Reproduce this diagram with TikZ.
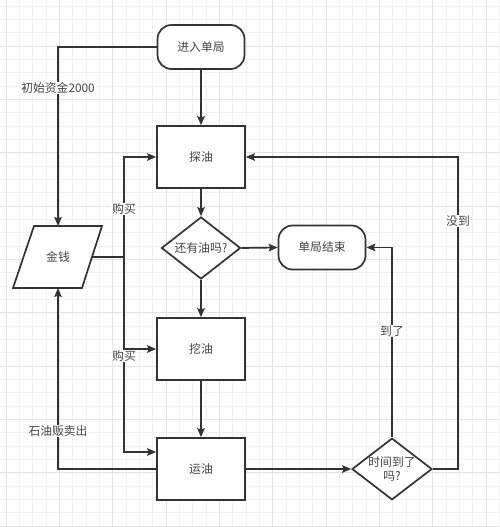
\documentclass[tikz,border=0pt]{standalone}
\usepackage{fontspec}
\setmainfont{Noto Sans CJK SC}
\usetikzlibrary{shapes.geometric,arrows.meta}
\definecolor{ink}{HTML}{333333}
\definecolor{txt}{HTML}{444444}
\definecolor{gminor}{HTML}{F1F1F1}
\definecolor{gmajor}{HTML}{E3E3E3}
\begin{document}
\begin{tikzpicture}[x=1pt,y=-1pt,
  font=\fontsize{11.8}{14}\selectfont,
  every node/.style={text=txt},
  box/.style={draw=ink,line width=1.7pt,minimum width=88pt,minimum height=62pt,inner sep=0pt,fill=white},
  term/.style={draw=ink,line width=1.7pt,rounded corners=14pt,minimum width=87pt,minimum height=44pt,inner sep=0pt,fill=white},
  decide/.style={draw=ink,line width=1.7pt,diamond,aspect=1.28,minimum width=79pt,minimum height=62pt,inner sep=0pt,fill=white,align=center},
  lbl/.style={fill=white,inner sep=1pt},
  arr/.style={draw=ink,line width=1.7pt,-{Stealth[length=9pt,width=7.5pt,inset=1.5pt]}},
  ln/.style={draw=ink,line width=1.7pt}]
\useasboundingbox (0,0) rectangle (499,527);
\fill[white] (0,0) rectangle (499,527);
% grid
\foreach \k in {0,...,37} {\draw[gminor,line width=0.6pt] ({6+13.333*\k},0) -- ({6+13.333*\k},527);}
\foreach \k in {0,...,39} {\draw[gminor,line width=0.6pt] (0,{6+13.333*\k}) -- (499,{6+13.333*\k});}
\foreach \k in {0,...,9} {\draw[gmajor,line width=0.7pt] ({6+53.333*\k},0) -- ({6+53.333*\k},527);}
\foreach \k in {0,...,9} {\draw[gmajor,line width=0.7pt] (0,{46+53.333*\k}) -- (499,{46+53.333*\k});}

% nodes
\node[term] (start) at (201,47) {进入单局};
\node[box] (tan) at (201,157) {探油};
\node[decide] (has) at (201,248) {还有油吗?};
\node[term] (end) at (322,247.5) {单局结束};
\node[box] (wa) at (201,349) {挖油};
\node[box] (yun) at (201,469) {运油};
\node[decide,minimum width=80pt,minimum height=61pt] (time) at (392,469) {时间到了\\吗?};
% money parallelogram
\draw[ink,line width=1.7pt,fill=white] (34,226) -- (102,226) -- (82,288) -- (13,288) -- cycle;
\node (money) at (58,257) {金钱};
\coordinate (mtop) at (58,226);
\coordinate (mbot) at (58,288);
\coordinate (mright) at (92,257);
\coordinate (bus) at (124,257);
\coordinate (rt) at (458,469);

% connectors
\draw[arr] (start.west) -| (mtop);
\node[lbl] (l1) at (58,88) {初始资金2000};
\draw[arr] (start.south) -- (tan.north);
\draw[arr] (tan.south) -- (has.north);
\draw[arr] (has.east) -- (end.west);
\draw[arr] (has.south) -- (wa.north);
\draw[arr] (wa.south) -- (yun.north);
\draw[ln] (mright) -- (bus);
\draw[arr] (bus) |- (tan.west);
\draw[arr] (bus) |- (wa.west);
\draw[arr] (bus) |- ([yshift=17pt]yun.west);
\node[lbl] (l2) at (124,209) {购买};
\node[lbl] (l3) at (124,356) {购买};
\draw[arr] (yun.west) -| (mbot);
\node[lbl] (l4) at (58,431) {石油贩卖出};
\draw[arr] (yun.east) -- (time.west);
\draw[arr] (time.north) |- (end.east);
\node[lbl] (l5) at (392,331) {到了};
\draw[arr] (time.east) -- (rt) |- (tan.east);
\node[lbl] (l6) at (458,221) {没到};
\end{tikzpicture}
\end{document}
